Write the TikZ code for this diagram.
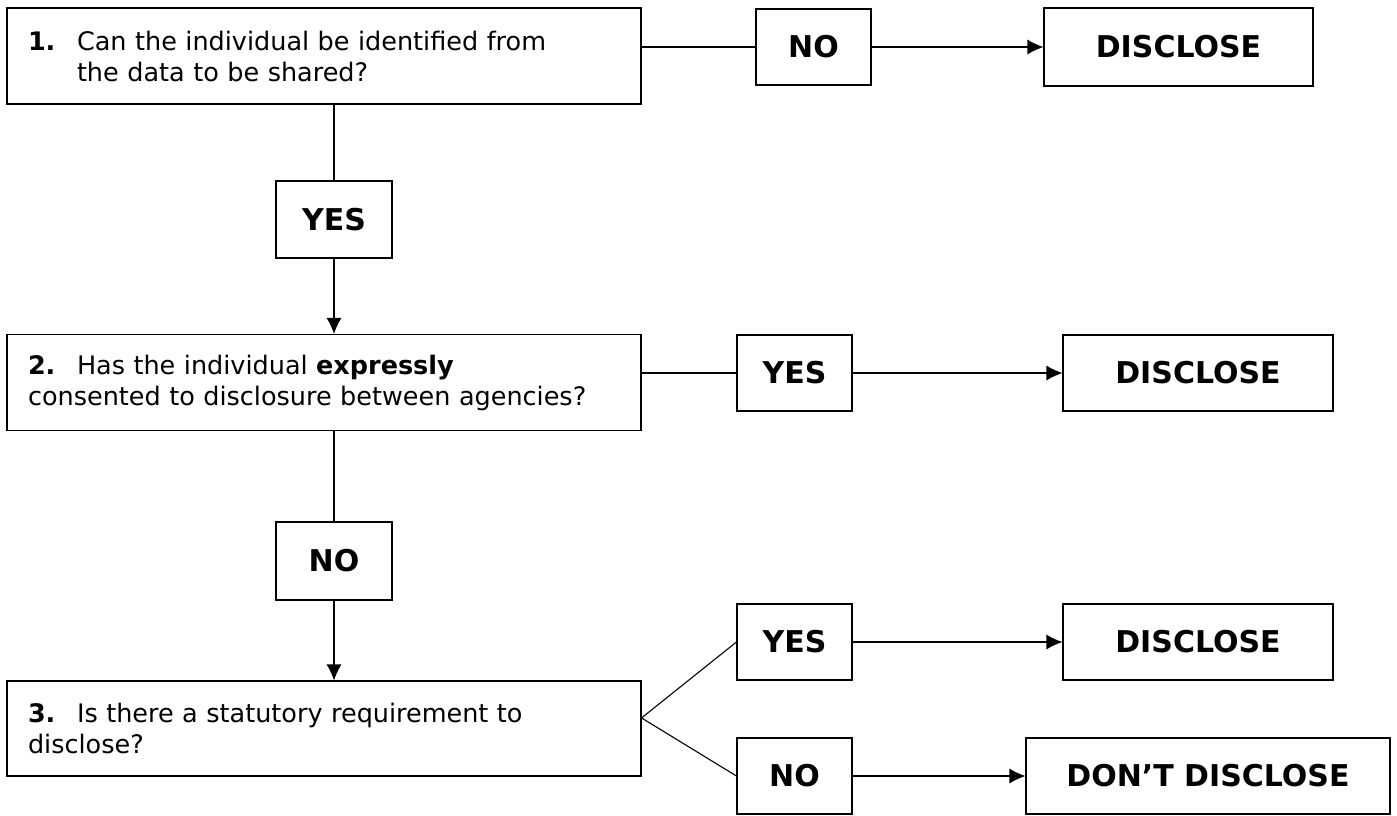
\documentclass[tikz,border=0pt]{standalone}
\usepackage{fontspec}
\setmainfont{DejaVu Sans}
\usepackage{tikz}
\usetikzlibrary{arrows.meta, calc, positioning}
\tikzset{
    question/.style={draw, line width=1.1pt, minimum width=634pt, minimum height=96pt, text width=592pt, inner xsep=21pt, align=left, font=\fontsize{25.5}{31}\selectfont},
    answer/.style={draw, line width=1.1pt, minimum width=115pt, minimum height=76pt, inner sep=0pt, font=\bfseries\fontsize{30}{36}\selectfont},
    outcome/.style={answer, minimum width=270pt},
    flowLink/.style={line width=1.1pt},
    flowEdge/.style={-{Latex[length=16pt, width=15pt]}, line width=1.1pt},
}
\newcommand{\qnum}[1]{\makebox[49pt][l]{\textbf{#1.}}}

\begin{document}
\begin{tikzpicture}[x=1pt, y=-1pt]
        \useasboundingbox (0,0) rectangle (1397,815);

        \node[question] (q1) at (324,56) {\qnum{1}Can the individual be identified from\\\hspace*{49pt}the data to be shared?};
        \node[question] (q2) at (324,382.5) {\qnum{2}Has the individual \textbf{expressly}\\consented to disclosure between agencies?};
        \node[question, minimum height=95pt] (q3) at (324,728.5) {\qnum{3}Is there a statutory requirement to\\disclose?};

        \node[answer] (no1) at (813.5,47) {NO};
        \node[outcome, minimum width=269pt, minimum height=78pt] (out1) at (1178.5,47) {DISCLOSE};

        \node[answer, minimum width=116pt, minimum height=77pt] (yes1) at (334,219.5) {YES};
        \node[answer, minimum width=116pt, minimum height=78pt] (no2) at (334,561) {NO};

        \node[answer] (yes2) at (794.5,373) {YES};
        \node[outcome] (out2) at (1198,373) {DISCLOSE};

        \node[answer] (yes3) at (794.5,642) {YES};
        \node[outcome] (out3) at (1198,642) {DISCLOSE};
        \node[answer] (no3) at (794.5,776) {NO};
        \node[outcome, minimum width=364pt] (out4) at (1208,776) {DON'T DISCLOSE};

        \coordinate (fork) at ($(q3.north east)!0.39!(q3.south east)$);

        \draw[flowLink] (no1.west -| q1.east) -- (no1.west);
        \draw[flowEdge] (no1.east) -- (out1.west);

        \draw[flowLink] (yes1.north |- q1.south) -- (yes1.north);
        \draw[flowEdge] (yes1.south) -- (yes1.south |- q2.north);

        \draw[flowLink] (yes2.west -| q2.east) -- (yes2.west);
        \draw[flowEdge] (yes2.east) -- (out2.west);

        \draw[flowLink] (no2.north |- q2.south) -- (no2.north);
        \draw[flowEdge] (no2.south) -- (no2.south |- q3.north);

        \draw[flowLink] (fork) -- (yes3.west);
        \draw[flowLink] (fork) -- (no3.west);
        \draw[flowEdge] (yes3.east) -- (out3.west);
        \draw[flowEdge] (no3.east) -- (out4.west);

    \end{tikzpicture}
\end{document}
